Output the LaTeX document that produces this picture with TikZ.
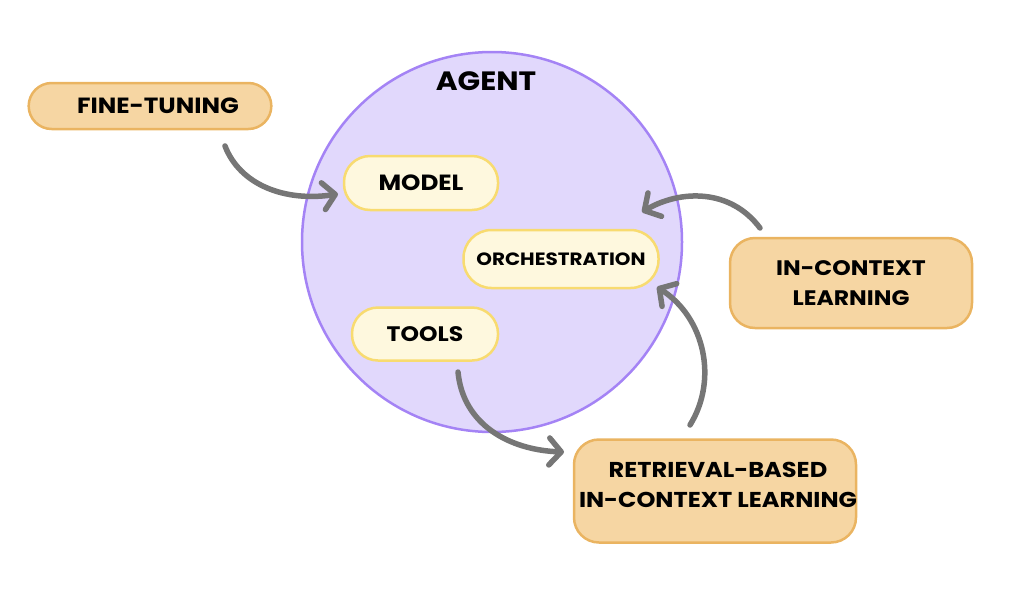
\documentclass[tikz,border=0pt]{standalone}
\usepackage{fontspec}
\setmainfont{Poppins}[FakeStretch=1.12]
\usetikzlibrary{arrows.meta}
\definecolor{circfill}{HTML}{E1D8FC}
\definecolor{circline}{HTML}{A483F5}
\definecolor{orfill}{HTML}{F6D6A3}
\definecolor{orline}{HTML}{EAB461}
\definecolor{yefill}{HTML}{FEF8DE}
\definecolor{yeline}{HTML}{F8DB70}
\definecolor{arr}{HTML}{767676}
\tikzset{
  outer/.style={draw=orline, fill=orfill, line width=2.5pt, font=\bfseries, align=center},
  inner/.style={draw=yeline, fill=yefill, line width=2.5pt, font=\bfseries, align=center, rounded corners=26pt},
  conn/.style={draw=arr, line width=5.5pt, line cap=round, -{Straight Barb[length=12pt,width=27pt,line width=5.5pt,round]}},
}
\begin{document}
\begin{tikzpicture}[x=1pt,y=-1pt]
\useasboundingbox (0,0) rectangle (1024,603);
% circle
\node[circle, draw=circline, fill=circfill, line width=2.5pt, minimum size=380pt, inner sep=0pt] (agent) at (492,242) {};
\node[font=\bfseries\fontsize{26.5}{30}\selectfont] (agentlbl) at (486,81) {AGENT};
% outer boxes
\node[outer, rounded corners=23pt, minimum width=236pt, minimum height=46pt, text width=236pt, font=\bfseries\fontsize{22}{24}\selectfont] (ft) at (150,106) {\hspace*{16pt}FINE-TUNING};
\node[outer, rounded corners=25pt, minimum width=242pt, minimum height=90pt, font=\bfseries\fontsize{21}{30}\selectfont] (icl) at (851,283) {IN-CONTEXT\\LEARNING};
\node[outer, rounded corners=25pt, minimum width=282pt, minimum height=103pt, inner sep=0pt] (ricl) at (715,491) {};
\node[font=\bfseries\fontsize{21.5}{30}\selectfont, align=center, anchor=north] (rlbl) at (718,459) {RETRIEVAL-BASED\\IN-CONTEXT LEARNING};
% inner boxes
\node[inner, minimum width=154pt, minimum height=54pt, font=\bfseries\fontsize{22}{24}\selectfont] (model) at (421,183) {MODEL};
\node[inner, minimum width=195pt, minimum height=58pt, rounded corners=28pt, font=\bfseries\fontsize{17.8}{20}\selectfont] (orch) at (561,259) {ORCHESTRATION};
\node[inner, minimum width=146pt, minimum height=53pt, font=\bfseries\fontsize{21}{24}\selectfont] (tools) at (425,334) {TOOLS};
% arrow endpoints
\coordinate (a1s) at (225,146);
\coordinate (a1e) at (338,194);
\coordinate (a2s) at (760,228);
\coordinate (a2e) at (642,212);
\coordinate (a3s) at (690,425);
\coordinate (a3e) at (657,287);
\coordinate (a4s) at (458,372);
\coordinate (a4e) at (564,452);
\draw[conn] (a1s) .. controls (240,185) and (285,202) .. (a1e);
\draw[conn] (a2s) .. controls (730,188) and (680,190) .. (a2e);
\draw[conn] (a3s) .. controls (718,380) and (705,318) .. (a3e);
\draw[conn] (a4s) .. controls (463,425) and (510,450) .. (a4e);
\end{tikzpicture}
\end{document}
